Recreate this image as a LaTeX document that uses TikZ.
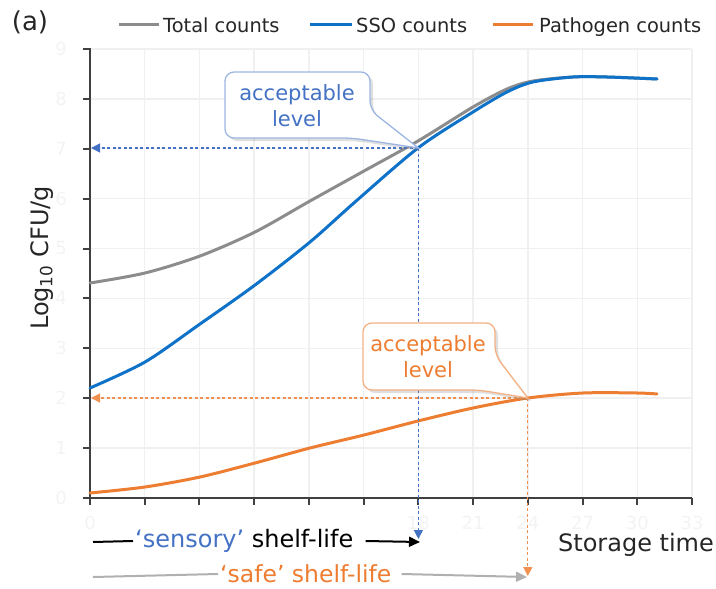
\documentclass[tikz,border=0pt]{standalone}
\usepackage{fontspec}
\setmainfont{DejaVu Sans}
\usetikzlibrary{arrows.meta,shadows}
\definecolor{cgray}{HTML}{8C8C8C}
\definecolor{cblue}{HTML}{0F72C9}
\definecolor{corange}{HTML}{ED7D31}
\definecolor{tblue}{HTML}{4472C4}
\definecolor{bblue}{HTML}{9DB6E3}
\definecolor{borange}{HTML}{F4B183}
\definecolor{axisc}{HTML}{404040}
\definecolor{gridc}{HTML}{F0F0F0}
\definecolor{faint}{HTML}{F3F3F3}
\definecolor{sline}{HTML}{B0B0B0}
\newcommand\myfs[1]{\fontsize{#1}{1.2\dimexpr#1pt\relax}\selectfont}
\begin{document}
\begin{tikzpicture}[x=1pt,y=-1pt,
  gridline/.style={gridc,line width=1.5pt},
  axisline/.style={axisc,line width=2pt},
  ticklab/.style={text=faint,font=\myfs{18},inner sep=0pt},
  curve/.style={line width=3pt,line cap=round},
  legtxt/.style={font=\myfs{19.4},text=black!85,inner sep=0pt,anchor=base west},
  legline/.style={line width=3pt},
  bluedash/.style={tblue,line width=1.3pt,dash pattern=on 3pt off 2.5pt,-{Triangle[length=9pt,width=9pt]}},
  orangedash/.style={corange!85,line width=1.3pt,dash pattern=on 3pt off 2.5pt,-{Triangle[length=9pt,width=9pt]}},
  callbox/.style={fill=white,line width=1.3pt,drop shadow={opacity=0.25,shadow xshift=3pt,shadow yshift=-3pt}},
  calltxt/.style={font=\myfs{21},align=center,inner sep=0pt},
  bigtxt/.style={font=\myfs{24},inner sep=0pt},
  solidarrow/.style={line width=2pt,-{Triangle[length=11pt,width=10pt]}}
]
\useasboundingbox (0,0) rectangle (716,589);
% grid
\foreach \i in {0,...,11} \draw[gridline] ({90+54.73*\i},49) -- ({90+54.73*\i},498);
\foreach \v in {0,...,9} \draw[gridline] (90,{498-49.9*\v}) -- (692,{498-49.9*\v});
% faint tick labels
\foreach \v in {0,...,9} \node[ticklab] (yl\v) at (61,{498-49.9*\v}) {\v};
\foreach \i/\t in {0/0,6/18,7/21,8/24,9/27,10/30,11/33}
  \node[ticklab] (xl\i) at ({90+54.73*\i},523) {\t};
% axes
\draw[axisline] (90,48) -- (90,498) -- (692,498);
\foreach \v in {0,...,9} \draw[axisline] (83,{498-49.9*\v}) -- (90,{498-49.9*\v});
\foreach \i in {0,...,11} \draw[axisline] ({90+54.73*\i},498) -- ({90+54.73*\i},505);
% curves
\draw[curve,cgray] plot[smooth,tension=0.5] coordinates {(90,283) (145,273) (200,256) (255,232) (310,201) (364,171) (418,141) (473,107) (507,89) (533,81) (573,77) (607,77) (657,79)};
\draw[curve,cblue] plot[smooth,tension=0.5] coordinates {(90,388) (145,362) (200,324) (255,285) (310,242) (355,202) (418,148) (473,112) (507,92) (533,82) (573,77) (607,77) (657,79)};
\draw[curve,corange] plot[smooth,tension=0.5] coordinates {(90,493) (145,487) (200,477) (255,463) (310,448) (364,435) (418,421) (473,408) (528,398) (583,393) (637,393) (657,394)};
% key points
\coordinate (p7) at (418.4,148);
\coordinate (y7) at (91,148);
\coordinate (x18) at (418.4,539);
\coordinate (p2) at (527.8,398);
\coordinate (y2) at (91,398);
\coordinate (x24) at (527.8,576);
% dashed guides
\draw[bluedash] (p7) -- (y7);
\draw[bluedash] (p7) -- (x18);
\draw[orangedash] (p2) -- (y2);
\draw[orangedash] (p2) -- (x24);
% callouts
\draw[callbox,draw=bblue,rounded corners=9pt] (225,105) -- (225,72) -- (370,72) -- (370,110) [sharp corners] -- (p7) [rounded corners=9pt] -- (352,138) -- (225,138) -- cycle;
\node[calltxt,text=tblue] (accb) at (297,106) {acceptable\\[1pt]level};
\draw[callbox,draw=borange,rounded corners=9pt] (363,356) -- (363,323) -- (495,323) -- (495,355) [sharp corners] -- (p2) [rounded corners=9pt] -- (479,390) -- (363,390) -- cycle;
\node[calltxt,text=corange] (acco) at (428,357) {acceptable\\[1pt]level};
% legend
\coordinate (lg1) at (119,24); \coordinate (lg1e) at (159,24);
\draw[legline,cgray] (lg1) -- (lg1e);
\node[legtxt] (lt1) at (163,32) {Total counts};
\coordinate (lg2) at (310,24); \coordinate (lg2e) at (352,24);
\draw[legline,cblue] (lg2) -- (lg2e);
\node[legtxt] (lt2) at (356,32) {SSO counts};
\coordinate (lg3) at (493,24); \coordinate (lg3e) at (533,24);
\draw[legline,corange] (lg3) -- (lg3e);
\node[legtxt] (lt3) at (539,32) {Pathogen counts};
% labels
\node[font=\myfs{26},inner sep=0pt,text=black!85] (lbla) at (30,22) {(a)};
\node[bigtxt,rotate=90,text=black!85] (ylab) at (42,258) {Log\textsubscript{10} CFU/g};
\node[bigtxt,text=black!85] (st) at (636,545) {Storage time};
% shelf-life bars
\node[bigtxt,anchor=west,fill=white,inner xsep=2pt,inner ysep=2pt] (sens) at (133,541) {\textcolor{tblue}{‘sensory’} shelf-life};
\coordinate (s0) at (93,542);
\coordinate (s18) at (420,542);
\draw[black,line width=2pt] (s0) -- (sens.west);
\draw[solidarrow,black] ([xshift=10pt]sens.east) -- (s18);
\node[font=\myfs{23.5},inner sep=0pt,anchor=west,fill=white,text=corange,inner xsep=2pt] (safe) at (218,574) {‘safe’ shelf-life};
\coordinate (f0) at (93,577);
\coordinate (f24) at (527,577);
\draw[sline,line width=2pt] (f0) -- (safe.west);
\draw[solidarrow,sline] ([xshift=8pt]safe.east) -- (f24);
\end{tikzpicture}
\end{document}
